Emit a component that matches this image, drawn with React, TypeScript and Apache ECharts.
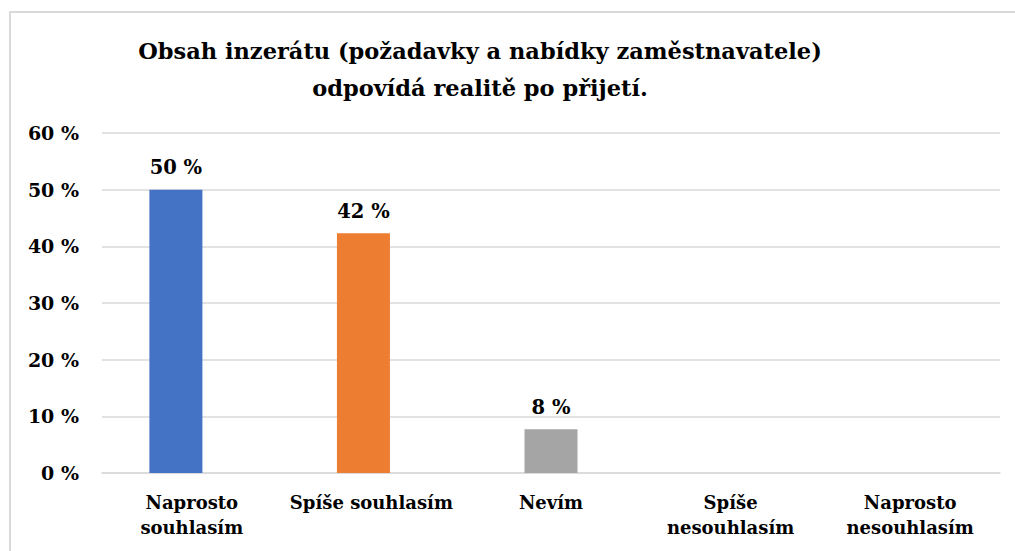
import React, { useEffect, useRef } from "react";
import * as echarts from "echarts";

const titleLines = ["Obsah inzerátu (požadavky a nabídky zaměstnavatele)", "odpovídá realitě po přijetí."];
const categories = ["Naprosto\nsouhlasím", "Spíše souhlasím", "Nevím", "Spíše\nnesouhlasím", "Naprosto\nnesouhlasím"];
const values = [50, 42.3, 7.7, 0, 0];
const colors = ["#4472C4", "#ED7D31", "#A5A5A5", "#FFC000", "#5B9BD5"];
const yTicks = [0, 10, 20, 30, 40, 50, 60];

const FONT = "DejaVu Serif";

export default function App() {
  const ref = useRef<HTMLDivElement>(null);
  useEffect(() => {
    if (!ref.current) return;
    const chart = echarts.init(ref.current, undefined, { renderer: "svg" });
    const series = categories.map((c, i) => ({
      type: "bar",
      name: c,
      barWidth: 53,
      barGap: "-85%",
      itemStyle: { color: colors[i] },
      label: {
        show: true,
        position: "top",
        distance: 12,
        fontFamily: FONT,
        fontWeight: "bold",
        fontSize: 19.5,
        color: "#000",
        formatter: (p: any) => (p.value ? Math.round(p.value) + " %" : ""),
      },
      data: categories.map((_, j) => (j === i && values[i] ? values[i] : "-")),
    }));
    chart.setOption({
      animation: false,
      backgroundColor: "#fff",
      textStyle: { fontFamily: FONT },
      title: {
        text: titleLines.join("\n"),
        left: 475,
        top: 27,
        textAlign: "center",
        textStyle: { fontFamily: FONT, fontWeight: "bold", fontSize: 22.5, lineHeight: 37, color: "#000" },
      },
      graphic: [
        {
          type: "rect",
          shape: { x: 10, y: 12, width: 1040, height: 580 },
          style: { fill: "none", stroke: "#d9d9d9", lineWidth: 2 },
          silent: true,
        },
      ],
      grid: { left: 102, right: 15, top: 133, bottom: 78, containLabel: false },
      xAxis: {
        type: "category",
        data: categories,
        axisTick: { show: false },
        axisLine: { lineStyle: { color: "#d9d9d9", width: 1.5 } },
        axisLabel: {
          interval: 0,
          margin: 17,
          fontFamily: FONT,
          fontWeight: "bold",
          fontSize: 18,
          lineHeight: 25,
          color: "#000",
        },
      },
      yAxis: {
        type: "value",
        min: yTicks[0],
        max: yTicks[yTicks.length - 1],
        interval: 10,
        axisLine: { show: false },
        axisTick: { show: false },
        splitLine: { lineStyle: { color: "#d9d9d9", width: 1.5 } },
        axisLabel: {
          margin: 23,
          fontFamily: FONT,
          fontWeight: "bold",
          fontSize: 19,
          color: "#000",
          formatter: (v: number) => v + " %",
        },
      },
      series,
    });
    return () => chart.dispose();
  }, []);
  return <div ref={ref} style={{ position: "fixed", left: 0, top: 0, width: 1015, height: 551 }} />;
}
